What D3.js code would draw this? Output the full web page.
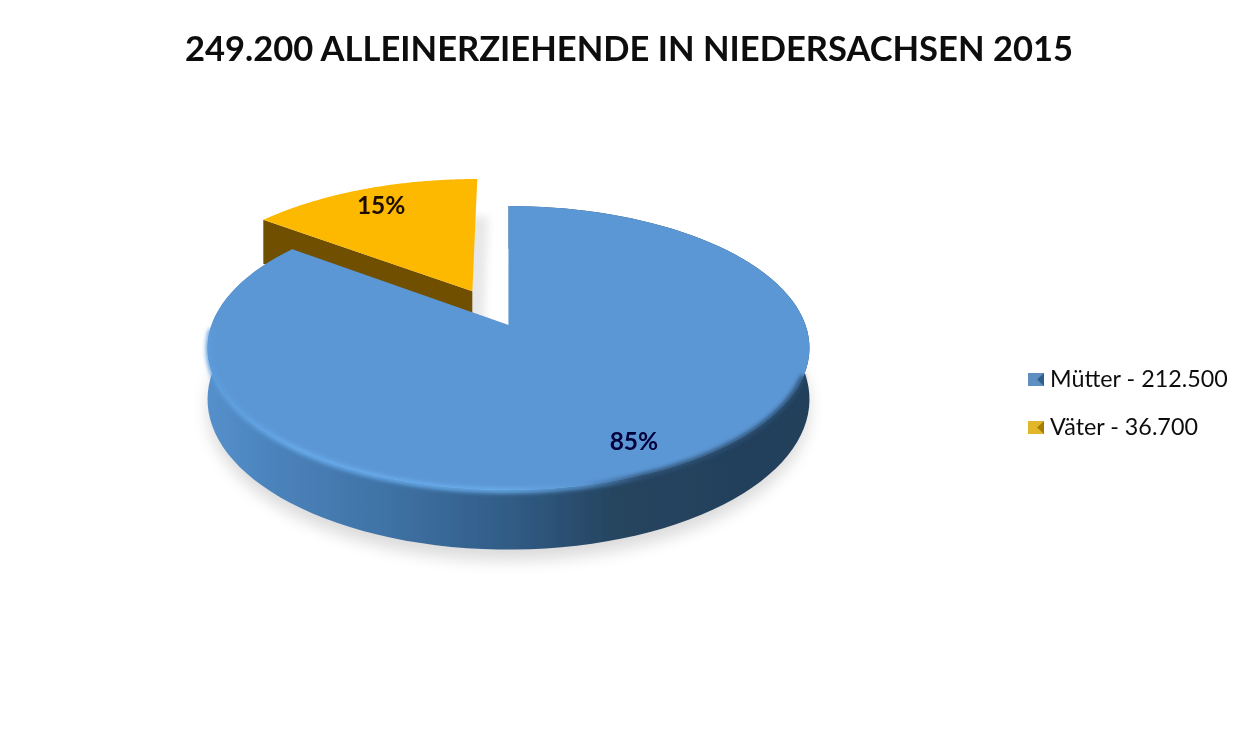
<!DOCTYPE html>
<html><head><meta charset="utf-8">
<script src="https://cdn.jsdelivr.net/npm/d3@7"></script>
<style>html,body{margin:0;padding:0;background:#fff;overflow:hidden}svg{display:block}text{font-family:Lato,"Open Sans",sans-serif}</style>
</head><body>
<script>
const titleText = "249.200 ALLEINERZIEHENDE IN NIEDERSACHSEN 2015";
const categories = ["Mütter", "Väter"];
const values = [212500, 36700];
const valueLabels = ["212.500", "36.700"];
const percentLabels = ["85%", "15%"];
const explode = [0, 0.284];
const radiusScale = [1, 1.02];
const topColors = ["#5b97d5", "#fdb900"];
const wallColors = ["#3f73a8", "#6f4f00"];
const labelColors = ["#06063a", "#1a0d00"];
const legendY = [380, 428];
const legendDark = ["#2f5f8f", "#a87c00"];
const legendLight = ["#5f8fc0", "#e2b62c"];

const W = 1260, H = 734;
const svg = d3.select("body").append("svg").attr("width", W).attr("height", H);
const defs = svg.append("defs");
const blur = (id, s) => defs.append("filter").attr("id", id)
  .attr("x", "-20%").attr("y", "-20%").attr("width", "140%").attr("height", "140%")
  .append("feGaussianBlur").attr("stdDeviation", s);
blur("soft", 0.5); blur("rim", 2.2); blur("shadow", 8); blur("gapShadow", 4); blur("txt", 0.35);

const grad = (id, stops) => {
  const g = defs.append("linearGradient").attr("id", id).attr("gradientUnits", "userSpaceOnUse")
    .attr("x1", 207).attr("x2", 810).attr("y1", 0).attr("y2", 0);
  stops.forEach(([o, c]) => g.append("stop").attr("offset", o).attr("stop-color", c));
};
grad("side", [[0, "#5590cc"], [0.12, "#4a82ba"], [0.3, "#3f72a5"], [0.5, "#315c86"], [0.68, "#25445f"], [1, "#233f5a"]]);
grad("bevel", [[0, "#5b9bdc"], [0.15, "#68acee"], [0.5, "#69aeee"], [0.62, "#5b97d5"], [0.72, "#2f5378"], [1, "#2b4f72"]]);

// Perspective projection of the unit disc onto the picture
const cx = 508.5, R = 297, persp = -0.162, yA = 85.6, y0 = 325, depth = 50;
const project = (ang, r, off, d) => {
  const oa = off.a, ox = off.k * Math.sin(oa), oy = -off.k * Math.cos(oa);
  const u = r * Math.sin(ang) + ox, v = -r * Math.cos(ang) + oy;
  const w = 1 + persp * v;
  return [cx + R * u / w, (yA * v + y0 + d) / w];
};
const line = d3.line();
const pie = d3.pie().sort(null).value(d => d)(values);
const slices = pie.map((p, i) => ({...p, i, mid: (p.startAngle + p.endAngle) / 2, rad: radiusScale[i],
  off: {a: (p.startAngle + p.endAngle) / 2, k: explode[i]}}));
const arcAngles = (s) => d3.range(0, 121).map(k => s.startAngle + (s.endAngle - s.startAngle) * k / 120);
const faceD = (s, d) => line([project(0, 0, s.off, d), ...arcAngles(s).map(a => project(a, s.rad, s.off, d))]) + "Z";

const blue = slices[0], yellow = slices[1];

// Soft drop shadow under the disc
svg.append("path").attr("d", line(d3.range(0, 121).map(k => project(k / 120 * 2 * Math.PI, 1.0, {a: 0, k: 0}, depth + 9))) + "Z")
  .attr("fill", "#000").attr("opacity", 0.14).attr("filter", "url(#shadow)");
// Clear the gap, leaving a pale strip cast by the exploded slice
svg.append("path").attr("d", faceD({...yellow, off: {a: 0, k: 0}, rad: 1}, 0)).attr("fill", "#fff");
svg.append("path").attr("d", faceD(yellow, 45)).attr("fill", "#000").attr("opacity", 0.09).attr("filter", "url(#gapShadow)")
  .attr("transform", "translate(11,0)");

const chart = svg.append("g").attr("filter", "url(#soft)");
// Exploded slice: wall then top
chart.append("path").attr("d", line([
    project(0, 0, yellow.off, 0), project(yellow.endAngle, 0, yellow.off, 0),
    project(yellow.startAngle, yellow.rad, yellow.off, 0), project(yellow.startAngle, yellow.rad, yellow.off, depth),
    project(0, 0, yellow.off, depth)]) + "Z")
  .attr("fill", wallColors[1]);
chart.append("path").attr("d", faceD(yellow, 0)).attr("fill", topColors[1]);

// Main slice: side band then top
const ba = arcAngles(blue);
chart.append("path").attr("d", line([...ba.map(a => project(a, 1, blue.off, 0)),
    ...ba.slice().reverse().map(a => project(a, 1, blue.off, depth))]) + "Z")
  .attr("fill", "url(#side)");
chart.append("path").attr("d", faceD(blue, 0)).attr("fill", topColors[0]);
// Bevel light along the front rim
const front = ba.filter(a => a > Math.PI * 0.6 && a < Math.PI * 1.5);
svg.append("path").attr("d", line(front.map(a => project(a, 0.997, blue.off, 1))))
  .attr("fill", "none").attr("stroke", "url(#bevel)").attr("stroke-width", 5).attr("filter", "url(#rim)");

// Percentage labels
const labelR = 0.832;
svg.append("g").selectAll("text").data(slices).join("text")
  .attr("x", d => project(d.mid, labelR, d.off, 0)[0])
  .attr("y", d => project(d.mid, labelR, d.off, 0)[1] + 8)
  .attr("text-anchor", "middle").attr("font-size", 24.5).attr("font-weight", 700)
  .attr("fill", d => labelColors[d.i]).attr("filter", "url(#txt)")
  .text(d => percentLabels[d.i]);

// Title
svg.append("text").attr("x", 629).attr("y", 61).attr("text-anchor", "middle")
  .attr("font-size", 35).attr("font-weight", 700).attr("fill", "#0a0a0a")
  .attr("textLength", 888).attr("lengthAdjust", "spacingAndGlyphs")
  .attr("filter", "url(#txt)").text(titleText);

// Legend
const legend = svg.append("g").selectAll("g").data(categories).join("g")
  .attr("transform", (d, i) => `translate(1028,${legendY[i]})`);
legend.append("rect").attr("x", 0).attr("y", -7).attr("width", 16).attr("height", 13)
  .attr("fill", (d, i) => legendLight[i]).attr("filter", "url(#txt)");
legend.append("path").attr("d", "M16,-7L9,-0.5L16,6Z").attr("fill", (d, i) => legendDark[i]);
legend.append("text").attr("x", 22).attr("y", 7).attr("font-size", 23.3).attr("fill", "#111")
  .attr("filter", "url(#txt)")
  .text((d, i) => `${d} - ${valueLabels[i]}`);
</script>
</body></html>
